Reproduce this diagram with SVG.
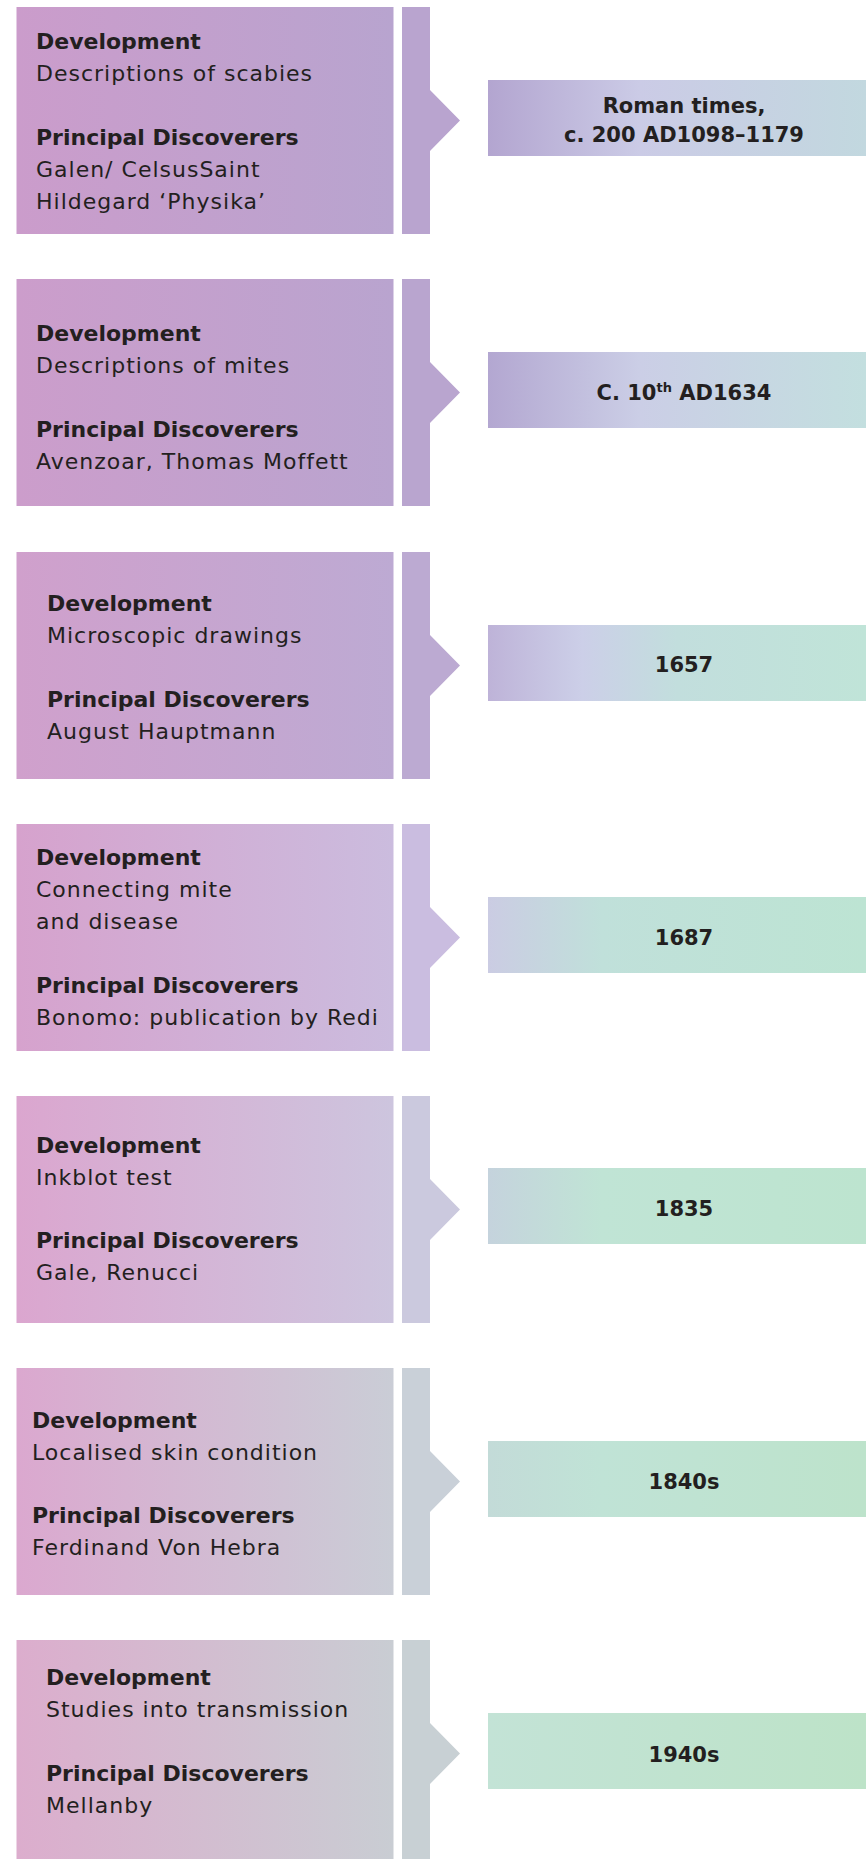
<svg xmlns="http://www.w3.org/2000/svg" width="866" height="1859" viewBox="0 0 866 1859">
<defs>
<linearGradient id="b1" x1="0" y1="0" x2="1" y2="0"><stop offset="0" stop-color="#cb9ccb"/><stop offset="1" stop-color="#b8a4cf"/></linearGradient>
<linearGradient id="b2" x1="0" y1="0" x2="1" y2="0"><stop offset="0" stop-color="#cc9dcb"/><stop offset="1" stop-color="#b9a4cf"/></linearGradient>
<linearGradient id="b3" x1="0" y1="0" x2="1" y2="0"><stop offset="0" stop-color="#d0a0cc"/><stop offset="1" stop-color="#bdaad3"/></linearGradient>
<linearGradient id="b4" x1="0" y1="0" x2="1" y2="0"><stop offset="0" stop-color="#d6a2cd"/><stop offset="1" stop-color="#cbbcde"/></linearGradient>
<linearGradient id="b5" x1="0" y1="0" x2="1" y2="0"><stop offset="0" stop-color="#dba6cf"/><stop offset="1" stop-color="#cdc5de"/></linearGradient>
<linearGradient id="b6" x1="0" y1="0" x2="1" y2="0"><stop offset="0" stop-color="#dba8cf"/><stop offset="1" stop-color="#cacdd6"/></linearGradient>
<linearGradient id="b7" x1="0" y1="0" x2="1" y2="0"><stop offset="0" stop-color="#dcadcd"/><stop offset="1" stop-color="#c9cdd3"/></linearGradient>
<linearGradient id="d1" x1="0" y1="0" x2="1" y2="0"><stop offset="0" stop-color="#b3a5d0"/><stop offset="0.4" stop-color="#cbcbe6"/><stop offset="1" stop-color="#c2d8df"/></linearGradient>
<linearGradient id="d2" x1="0" y1="0" x2="1" y2="0"><stop offset="0" stop-color="#b3a7d1"/><stop offset="0.4" stop-color="#cbcee6"/><stop offset="1" stop-color="#c3dfdf"/></linearGradient>
<linearGradient id="d3" x1="0" y1="0" x2="1" y2="0"><stop offset="0" stop-color="#beb3d8"/><stop offset="0.25" stop-color="#cccfe8"/><stop offset="0.5" stop-color="#c2dedd"/><stop offset="1" stop-color="#c0e4d8"/></linearGradient>
<linearGradient id="d4" x1="0" y1="0" x2="1" y2="0"><stop offset="0" stop-color="#cbcce3"/><stop offset="0.3" stop-color="#c0e0da"/><stop offset="1" stop-color="#bde4d3"/></linearGradient>
<linearGradient id="d5" x1="0" y1="0" x2="1" y2="0"><stop offset="0" stop-color="#c5d3dd"/><stop offset="0.3" stop-color="#c0e4d5"/><stop offset="1" stop-color="#bde4cf"/></linearGradient>
<linearGradient id="d6" x1="0" y1="0" x2="1" y2="0"><stop offset="0" stop-color="#c3dbd8"/><stop offset="0.3" stop-color="#c0e3d6"/><stop offset="1" stop-color="#bde3cb"/></linearGradient>
<linearGradient id="d7" x1="0" y1="0" x2="1" y2="0"><stop offset="0" stop-color="#c3e3d6"/><stop offset="1" stop-color="#bde3c8"/></linearGradient>
</defs>
<style>
text{font-family:"DejaVu Sans","Liberation Sans",sans-serif;fill:#231f20}
.h{font-size:22px;font-weight:bold}
.t{font-size:22px;letter-spacing:1px}
.dt{font-size:21px;font-weight:bold;text-anchor:middle}
</style>
<rect width="866" height="1859" fill="#ffffff"/>
<g id="connectors">
<path fill="#b9a4cf" d="M402,7H430V90L460,120.5L430,151V234H402Z"/>
<path fill="#b9a5cf" d="M402,279H430V362L460,392.5L430,423V506H402Z"/>
<path fill="#bcaad2" d="M402,552H430V635L460,665.5L430,696V779H402Z"/>
<path fill="#cabde0" d="M402,824H430V907L460,937.5L430,968V1051H402Z"/>
<path fill="#cbc9de" d="M402,1096H430V1179L460,1209.5L430,1240V1323H402Z"/>
<path fill="#c9d0d8" d="M402,1368H430V1451L460,1481.5L430,1512V1595H402Z"/>
<path fill="#c8d0d4" d="M402,1640H430V1723L460,1753.5L430,1784V1859H402Z"/>
</g>
<g id="node1">
<rect x="16.5" y="7" width="377" height="227" fill="url(#b1)"/>
<text class="h" x="36" y="48.5">Development</text>
<text class="t" x="36" y="80.5">Descriptions of scabies</text>
<text class="h" x="36" y="145">Principal Discoverers</text>
<text class="t" x="36" y="177">Galen/ CelsusSaint</text>
<text class="t" x="36" y="208.5">Hildegard ‘Physika’</text>
</g>
<g id="date1">
<rect x="488" y="80" width="378" height="76" fill="url(#d1)"/>
<text class="dt" x="684" y="112.5">Roman times,</text>
<text class="dt" x="684" y="142">c. 200 AD1098–1179</text>
</g>
<g id="node2">
<rect x="16.5" y="279" width="377" height="227" fill="url(#b2)"/>
<text class="h" x="36" y="341">Development</text>
<text class="t" x="36" y="373">Descriptions of mites</text>
<text class="h" x="36" y="437">Principal Discoverers</text>
<text class="t" x="36" y="468.5">Avenzoar, Thomas Moffett</text>
</g>
<g id="date2">
<rect x="488" y="352" width="378" height="76" fill="url(#d2)"/>
<text class="dt" x="684" y="400">C. 10<tspan font-size="13" dy="-8">th</tspan><tspan dy="8"> AD1634</tspan></text>
</g>
<g id="node3">
<rect x="16.5" y="552" width="377" height="227" fill="url(#b3)"/>
<text class="h" x="47" y="611">Development</text>
<text class="t" x="47" y="643">Microscopic drawings</text>
<text class="h" x="47" y="707">Principal Discoverers</text>
<text class="t" x="47" y="739">August Hauptmann</text>
</g>
<g id="date3">
<rect x="488" y="625" width="378" height="76" fill="url(#d3)"/>
<text class="dt" x="684" y="672">1657</text>
</g>
<g id="node4">
<rect x="16.5" y="824" width="377" height="227" fill="url(#b4)"/>
<text class="h" x="36" y="865">Development</text>
<text class="t" x="36" y="897">Connecting mite</text>
<text class="t" x="36" y="928.5">and disease</text>
<text class="h" x="36" y="993">Principal Discoverers</text>
<text class="t" x="36" y="1025">Bonomo: publication by Redi</text>
</g>
<g id="date4">
<rect x="488" y="897" width="378" height="76" fill="url(#d4)"/>
<text class="dt" x="684" y="944.5">1687</text>
</g>
<g id="node5">
<rect x="16.5" y="1096" width="377" height="227" fill="url(#b5)"/>
<text class="h" x="36" y="1153">Development</text>
<text class="t" x="36" y="1185">Inkblot test</text>
<text class="h" x="36" y="1248">Principal Discoverers</text>
<text class="t" x="36" y="1280">Gale, Renucci</text>
</g>
<g id="date5">
<rect x="488" y="1168" width="378" height="76" fill="url(#d5)"/>
<text class="dt" x="684" y="1216">1835</text>
</g>
<g id="node6">
<rect x="16.5" y="1368" width="377" height="227" fill="url(#b6)"/>
<text class="h" x="32" y="1428">Development</text>
<text class="t" x="32" y="1460">Localised skin condition</text>
<text class="h" x="32" y="1523">Principal Discoverers</text>
<text class="t" x="32" y="1554.5">Ferdinand Von Hebra</text>
</g>
<g id="date6">
<rect x="488" y="1441" width="378" height="76" fill="url(#d6)"/>
<text class="dt" x="684" y="1488.5">1840s</text>
</g>
<g id="node7">
<rect x="16.5" y="1640" width="377" height="219" fill="url(#b7)"/>
<text class="h" x="46" y="1685">Development</text>
<text class="t" x="46" y="1717">Studies into transmission</text>
<text class="h" x="46" y="1781">Principal Discoverers</text>
<text class="t" x="46" y="1812.5">Mellanby</text>
</g>
<g id="date7">
<rect x="488" y="1713" width="378" height="76" fill="url(#d7)"/>
<text class="dt" x="684" y="1761.5">1940s</text>
</g>
</svg>
